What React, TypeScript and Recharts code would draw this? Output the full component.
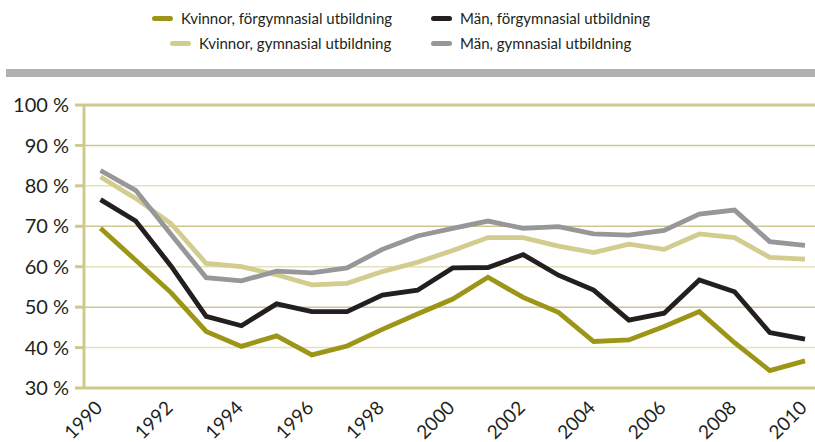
import React from 'react';
import { LineChart, Line, XAxis, YAxis, ReferenceLine } from 'recharts';

const years = [1990, 1991, 1992, 1993, 1994, 1995, 1996, 1997, 1998, 1999, 2000, 2001, 2002, 2003, 2004, 2005, 2006, 2007, 2008, 2009, 2010];
const kvinnorForgym = [69.5, 61.6, 53.6, 44.0, 40.3, 42.9, 38.2, 40.4, 44.5, 48.3, 52.0, 57.4, 52.4, 48.7, 41.5, 41.9, 45.2, 48.9, 41.2, 34.3, 36.7];
const kvinnorGym = [82.2, 76.9, 70.7, 60.8, 60.0, 58.0, 55.5, 55.9, 58.8, 61.1, 64.0, 67.2, 67.2, 65.1, 63.5, 65.6, 64.3, 68.1, 67.2, 62.3, 61.9];
const manForgym = [76.6, 71.3, 60.2, 47.7, 45.4, 50.8, 48.9, 48.9, 53.0, 54.2, 59.7, 59.8, 63.0, 57.9, 54.2, 46.8, 48.5, 56.7, 53.8, 43.7, 42.1];
const manGym = [83.8, 78.9, 68.0, 57.3, 56.5, 58.9, 58.5, 59.7, 64.3, 67.6, 69.5, 71.3, 69.5, 69.9, 68.1, 67.8, 69.0, 73.0, 74.0, 66.2, 65.3];
const yTicks = [30, 40, 50, 60, 70, 80, 90, 100];
const xTicks = [1990, 1992, 1994, 1996, 1998, 2000, 2002, 2004, 2006, 2008, 2010];

const data = years.map((y, i) => ({
  year: y,
  kf: kvinnorForgym[i],
  kg: kvinnorGym[i],
  mf: manForgym[i],
  mg: manGym[i],
}));

const FONT = 'Lato, "Open Sans", sans-serif';
const TEXT = '#231f20';

const series = [
  { key: 'kf', name: 'Kvinnor, förgymnasial utbildning', color: '#9d9517' },
  { key: 'kg', name: 'Kvinnor, gymnasial utbildning', color: '#d2cc8f' },
  { key: 'mf', name: 'Män, förgymnasial utbildning', color: '#231f20' },
  { key: 'mg', name: 'Män, gymnasial utbildning', color: '#97979a' },
];

// legend positions
const legendPos: Record<string, { left: number; top: number }> = {
  kf: { left: 152, top: 18 },
  mf: { left: 431, top: 18 },
  kg: { left: 170, top: 43 },
  mg: { left: 431, top: 43 },
};

const XTick = (props: any) => {
  const { x, y, payload } = props;
  return (
    <g transform={`translate(${x + 3},${y + 19})`}>
      <text x={0} y={0} textAnchor="end" transform="rotate(-45)" fill={TEXT} fontSize={19} fontFamily={FONT}>
        {payload.value}
      </text>
    </g>
  );
};

const App: React.FC = () => {
  return (
    <div style={{ position: 'absolute', left: 0, top: 0, width: 815, height: 442, background: '#fff', fontFamily: FONT }}>
      {series.map((s) => (
        <div
          key={s.key}
          style={{
            position: 'absolute',
            left: legendPos[s.key].left,
            top: legendPos[s.key].top - 10,
            height: 20,
            display: 'flex',
            alignItems: 'center',
            whiteSpace: 'nowrap',
            fontSize: 15,
            color: TEXT,
          }}
        >
          <span style={{ display: 'inline-block', width: 21, height: 5, borderRadius: 3, background: s.color, marginRight: 8 }} />
          {s.name}
        </div>
      ))}
      <div style={{ position: 'absolute', left: 6, top: 69, width: 809, height: 8, background: '#b1b1b3' }} />
      <div style={{ position: 'absolute', left: 0, top: 0 }}>
        <LineChart width={815} height={442} data={data} margin={{ top: 105, right: 0, bottom: 0, left: 0 }}>
          {yTicks.map((t) => (
            <ReferenceLine
              key={t}
              y={t}
              stroke={t === 100 || t === 30 ? '#cfca8c' : t % 20 === 0 ? '#e4e1bf' : '#cdc88f'}
              strokeWidth={t === 100 || t === 30 ? 3 : 1.5}
            />
          ))}
          <XAxis
            dataKey="year"
            type="number"
            domain={[1990, 2010]}
            ticks={xTicks}
            interval={0}
            padding={{ left: 16.5, right: 10 }}
            axisLine={false}
            tickLine={false}
            tickSize={0}
            height={54}
            tick={<XTick />}
          />
          <YAxis
            type="number"
            domain={[30, 100]}
            ticks={yTicks}
            interval={0}
            width={84}
            axisLine={{ stroke: '#cfca8c', strokeWidth: 3 }}
            tickLine={{ stroke: '#cfca8c', strokeWidth: 3 }}
            tickSize={9}
            tickMargin={6}
            tick={{ fill: TEXT, fontSize: 20, fontFamily: FONT }}
            tickFormatter={(v: number) => `${v} %`}
          />
          {series.map((s) => (
            <Line
              key={s.key}
              dataKey={s.key}
              name={s.name}
              stroke={s.color}
              strokeWidth={4.8}
              dot={false}
              isAnimationActive={false}
              strokeLinejoin="miter"
            />
          ))}
        </LineChart>
      </div>
    </div>
  );
};

export default App;
